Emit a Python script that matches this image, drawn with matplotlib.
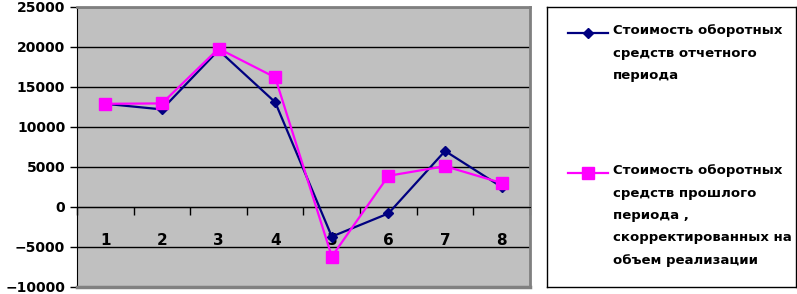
import matplotlib
matplotlib.use('Agg')
import matplotlib.pyplot as plt
import numpy as np

# Данные
periods = ['1', '2', '3', '4', '5', '6', '7', '8']
current = [12900, 12200, 19600, 13100, -3700, -800, 7000, 2500]
previous_adj = [12900, 12950, 19800, 16200, -6200, 3900, 5100, 3000]

label_cur = 'Стоимость оборотных\nсредств отчетного\nпериода'
label_prev = 'Стоимость оборотных\nсредств прошлого\nпериода ,\nскорректированных на\nобъем реализации'

BLUE = '#000080'
PINK = '#FF00FF'

plt.rcParams['font.family'] = ['DejaVu Sans']

fig = plt.figure(figsize=(7.97, 2.94), dpi=100)
ax = fig.add_axes([77/797, 7/294 * 1.0, (530-77)/797, (287-7)/294])
ax.set_facecolor('#C0C0C0')

x = np.arange(1, len(periods) + 1)
ax.plot(x, current, color=BLUE, lw=1.6, marker='D', ms=5, zorder=3)
ax.plot(x, previous_adj, color=PINK, lw=1.6, marker='s', ms=8, zorder=4)

ax.set_xlim(0.5, len(periods) + 0.5)
ax.set_ylim(-10000, 25000)
ax.set_yticks(np.arange(-10000, 25001, 5000))
ax.yaxis.grid(True, color='black', lw=1)
ax.set_axisbelow(True)
ax.tick_params(axis='y', direction='out', length=5, width=1, labelsize=10)
for t in ax.get_yticklabels():
    t.set_fontweight('bold')

# ось категорий проходит через 0
ax.spines['bottom'].set_position(('data', 0))
ax.spines['bottom'].set_color('black')
ax.spines['left'].set_color('black')
for s in ['top', 'right']:
    ax.spines[s].set_color('#808080')
    ax.spines[s].set_linewidth(2)
ax.axhline(-10000, color='#808080', lw=2.5, clip_on=False, zorder=5)

ax.set_xticks(np.arange(0.5, len(periods) + 1, 1))
ax.set_xticklabels([])
ax.set_xticks(x, minor=True)
ax.set_xticklabels(periods, minor=True, fontsize=11, fontweight='bold')
ax.tick_params(axis='x', which='major', direction='out', length=6, width=1)
ax.tick_params(axis='x', which='minor', length=0, pad=19)

# легенда
lax = fig.add_axes([547/797, 7/294, 249/797, 280/294])
lax.set_xlim(0, 249)
lax.set_ylim(280, 0)
lax.set_xticks([])
lax.set_yticks([])
for s in lax.spines.values():
    s.set_color('black')
    s.set_linewidth(1)

entries = [(label_cur, BLUE, 'D', 5, 26), (label_prev, PINK, 's', 8, 166)]
for text, col, mk, ms, y0 in entries:
    lax.plot([21, 61], [y0, y0], color=col, lw=1.6)
    lax.plot([41], [y0], color=col, marker=mk, ms=ms)
    lax.text(66, y0 - 9, text, fontsize=9.5, fontweight='bold', va='top',
             ha='left', linespacing=1.95)

fig.savefig('out.png', dpi=100)
